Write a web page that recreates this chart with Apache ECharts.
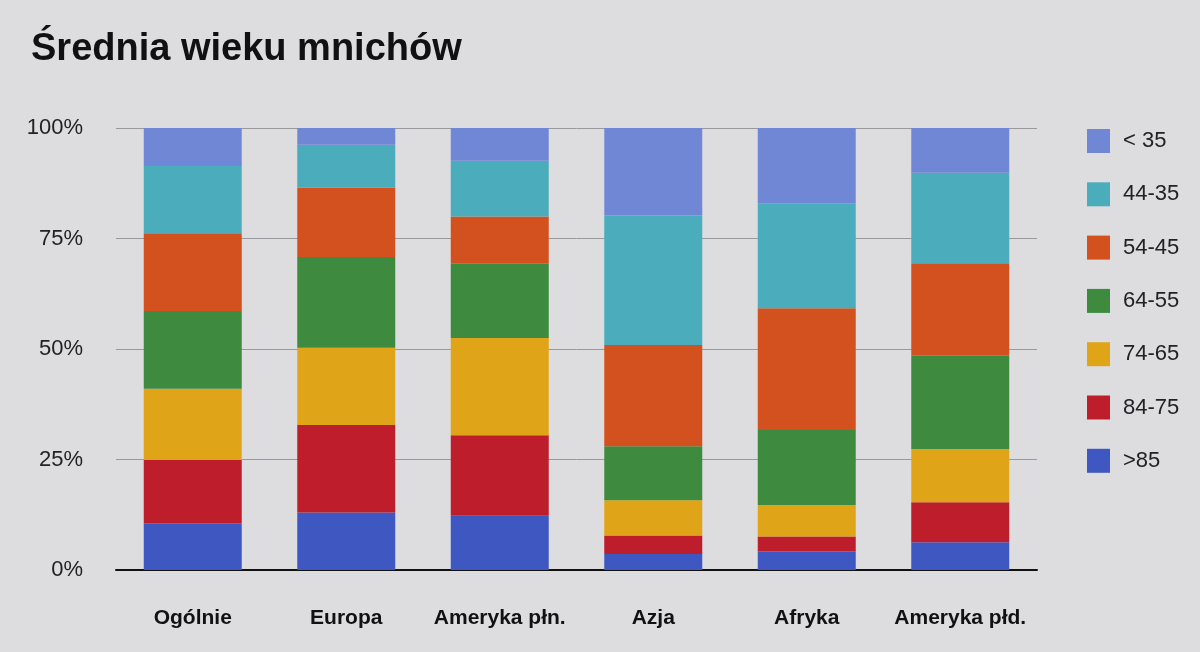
<!DOCTYPE html>
<html><head><meta charset="utf-8">
<script src="https://cdn.jsdelivr.net/npm/echarts@6/dist/echarts.min.js"></script>
<style>html,body{margin:0;padding:0;background:#dddde0;}#c{width:1200px;height:652px;}</style>
</head><body><div id="c"></div>
<script>
const categories = ['Ogólnie', 'Europa', 'Ameryka płn.', 'Azja', 'Afryka', 'Ameryka płd.'];
const yTicks = ['0%', '25%', '50%', '75%', '100%'];
const seriesNames = ['>85', '84-75', '74-65', '64-55', '54-45', '44-35', '< 35'];
const v85   = [10.6, 13.0, 12.3, 3.6, 4.2, 6.3];
const v84   = [14.3, 19.8, 18.2, 4.2, 3.4, 9.0];
const v74   = [16.1, 17.5, 22.0, 8.0, 7.1, 12.1];
const v64   = [17.6, 20.5, 16.8, 12.2, 17.0, 21.1];
const v54   = [17.6, 15.7, 10.7, 22.9, 27.5, 20.9];
const v44   = [15.2, 9.7, 12.6, 29.3, 23.8, 20.5];
const v35   = [8.6, 3.8, 7.4, 19.8, 17.0, 10.1];
const values = [v85, v84, v74, v64, v54, v44, v35];
const colors = ['#3f57c0', '#be1e2b', '#e0a419', '#3e8a3f', '#d3511f', '#4badbb', '#7087d5'];

const chart = echarts.init(document.getElementById('c'));
chart.setOption({
  backgroundColor: '#dddde0',
  animation: false,
  title: {
    text: 'Średnia wieku mnichów', left: 26, top: 26,
    textStyle: {fontFamily: 'Liberation Sans, Arial', fontWeight: 'bold', fontSize: 38, color: '#111'}
  },
  legend: {
    orient: 'vertical', left: 1082, top: 124,
    data: seriesNames.slice().reverse(),
    itemWidth: 23, itemHeight: 24, itemGap: 29.3,
    icon: 'rect',
    textStyle: {fontFamily: 'Liberation Sans, Arial', fontSize: 22, color: '#222', padding: [0, 0, 0, 8]}
  },
  grid: {left: 116, right: 163, top: 128, bottom: 82},
  xAxis: {
    type: 'category', data: categories,
    axisLine: {lineStyle: {color: '#111', width: 2}},
    axisTick: {show: false},
    axisLabel: {interval: 0, margin: 38, fontFamily: 'Liberation Sans, Arial', fontWeight: 'bold', fontSize: 21, color: '#111'}
  },
  yAxis: {
    type: 'value', min: 0, max: 100, interval: 25,
    axisLabel: {formatter: function (v) { return v + '%'; }, margin: 33, fontFamily: 'Liberation Sans, Arial', fontSize: 22, color: '#222'},
    splitLine: {lineStyle: {color: '#9a9a9c', width: 1}},
    axisLine: {show: false}, axisTick: {show: false}
  },
  series: seriesNames.map(function (n, i) {
    return {name: n, type: 'bar', stack: 'all', data: values[i], barWidth: 98, itemStyle: {color: colors[i]}};
  })
});
</script></body></html>
